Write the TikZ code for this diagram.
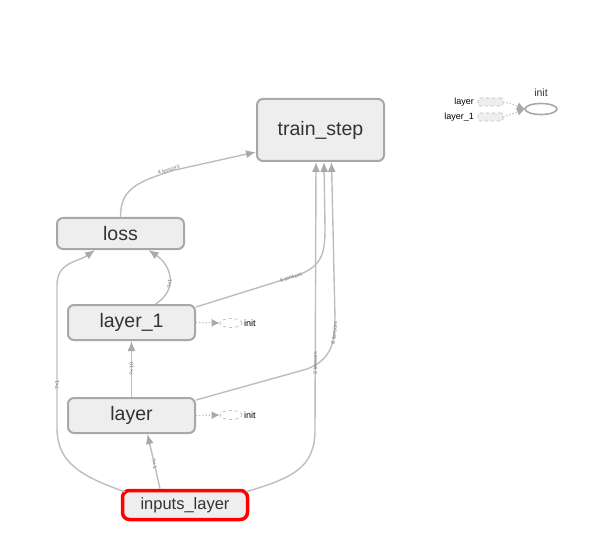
\documentclass[tikz,border=0pt]{standalone}
\usepackage{fontspec}
\setmainfont{Liberation Sans}
\usetikzlibrary{arrows.meta,shapes.geometric}
\definecolor{boxfill}{HTML}{EEEEEE}
\definecolor{boxline}{HTML}{A8A8A8}
\definecolor{edgecol}{HTML}{BDBDBD}
\definecolor{tipcol}{HTML}{A9A9A9}
\definecolor{txt}{HTML}{333333}
\definecolor{lbl}{HTML}{7A7A7A}
\begin{document}
\begin{tikzpicture}[x=1pt,y=-1pt,
  opbox/.style={draw=boxline,fill=boxfill,line width=2pt,rounded corners=6pt,
    minimum width=127pt,text=txt,font=\fontsize{19.5}{21}\selectfont,inner sep=0pt},
  inbox/.style={draw=red,fill=boxfill,line width=3.5pt,rounded corners=7pt,
    minimum width=125pt,minimum height=29pt,text=txt,font=\fontsize{16.5}{18}\selectfont,inner sep=0pt},
  edge/.style={draw=edgecol,line width=1.4pt,-{Latex[length=10pt,width=8pt,color=tipcol]}},
  elbl/.style={sloped,font=\fontsize{5.5}{6}\selectfont,text=lbl,inner sep=0.5pt},
  initell/.style={ellipse,draw=edgecol,dashed,line width=0.7pt,minimum width=22pt,minimum height=9pt,inner sep=0pt},
  initarrow/.style={draw=edgecol,dotted,line width=1.2pt,-{Latex[length=8pt,width=8pt,color=tipcol]}},
  smalltxt/.style={text=black,font=\fontsize{9}{10}\selectfont,inner sep=0pt},
  stub/.style={draw=edgecol,dashed,fill=boxfill,line width=0.6pt,rounded corners=2pt,minimum width=25pt,minimum height=8pt,inner sep=0pt}
]
\path[use as bounding box] (0,0) rectangle (599,537);

% main nodes
\node[opbox,minimum height=62pt] (ts) at (320.5,130) {train\_step};
\node[opbox,minimum height=31pt] (loss) at (120.5,233.5) {loss};
\node[opbox,minimum height=35pt] (l1) at (131.5,322.5) {layer\_1};
\node[opbox,minimum height=35pt] (lay) at (131.5,415.5) {layer};
\node[inbox] (inp) at (185,505) {inputs\_layer};

% init satellites
\node[initell] (i1) at (231,323) {};
\node[smalltxt,anchor=west] (i1t) at (244,323) {init};
\node[initell] (i0) at (231,415) {};
\node[smalltxt,anchor=west] (i0t) at (244,415) {init};
\draw[initarrow] (l1.east) -- (i1.west);
\draw[initarrow] (lay.east) -- (i0.west);

% top-right init group
\node[ellipse,draw=boxline,line width=1.6pt,minimum width=32pt,minimum height=11pt,inner sep=0pt] (ginit) at (541,109) {};
\node[text=txt,font=\fontsize{10.5}{11}\selectfont,inner sep=0pt] (ginitt) at (541,93) {init};
\node[stub] (sl) at (490.5,102) {};
\node[stub] (sl1) at (490.5,117) {};
\node[smalltxt,anchor=east] (slt) at (474,102) {layer};
\node[smalltxt,anchor=east] (sl1t) at (474,117) {layer\_1};
\coordinate (gin) at (525,109);
\draw[initarrow] (sl.east) .. controls (512,104) .. (gin);
\draw[initarrow] (sl1.east) .. controls (512,114) .. (gin);

% edges
\draw[edge] (loss.north) .. controls (120.5,190) and (135,182) .. (175,170)
  node[elbl,pos=0.95,above=-1pt] {4 tensors}
  -- ([yshift=10pt]ts.south west);
\draw[edge] ([xshift=24pt]l1.north) .. controls (178,290) and (172,266) .. ([xshift=28pt]loss.south)
  node[elbl,pos=0.4] {?×1};
\draw[edge] (lay.north) -- (l1.south) node[elbl,midway] {?×10};
\draw[edge] ([xshift=-25pt]inp.north) -- ([xshift=16pt]lay.south) node[elbl,pos=0.45] {?×1};
\draw[edge] ([xshift=4pt,yshift=-3pt]inp.north west) .. controls (80,476) and (57,462) .. (57,428)
  -- (57,285) node[elbl,pos=0.3] {?×1}
  .. controls (57,262) and (78,262) .. ([xshift=39pt]loss.south west);
\draw[edge] ([yshift=-3pt]l1.north east) -- (292,277)
  node[elbl,pos=0.99] {6 tensors}
  .. controls (322,268) and (325,255) .. (325,228) -- ([xshift=3.5pt]ts.south);
\draw[edge] ([yshift=-3pt]lay.north east) -- (307,369)
  .. controls (330,360) and (335,345) .. (335,318)
  node[elbl,pos=0.8] {6 tensors}
  -- ([xshift=11pt]ts.south);
\draw[edge] ([xshift=-3pt,yshift=-3pt]inp.north east) .. controls (292,478) and (315,468) .. (315,430)
  -- ([xshift=-4.5pt]ts.south) node[elbl,pos=0.25] {2 tensors};
\end{tikzpicture}
\end{document}
